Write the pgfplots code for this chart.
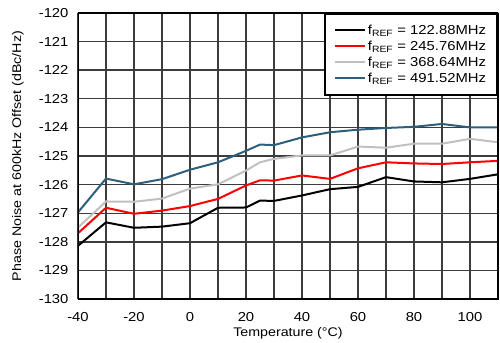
\documentclass[border=0pt]{standalone}
\usepackage{fontspec}
\setmainfont{Liberation Sans}[FakeStretch=1.14]
\usepackage{pgfplots}
\pgfplotsset{compat=1.18}
\definecolor{cblue}{RGB}{45,95,125}
\definecolor{cgray}{RGB}{192,192,192}
\definecolor{cred}{RGB}{255,0,0}
\definecolor{cgrid}{RGB}{60,60,60}
\begin{document}
\begin{tikzpicture}
\useasboundingbox (-78bp,-44bp) rectangle (422bp,299bp);
\begin{axis}[
 scale only axis, width=420bp, height=286bp,
 xmin=-40, xmax=110, ymin=-130, ymax=-120,
 xtick={-40,-20,...,100}, minor xtick={-30,-10,...,110},
 ytick={-130,-129,...,-120},
 grid=both,
 major grid style={draw=cgrid, line width=1.4bp},
 minor grid style={draw=cgrid, line width=1.4bp},
 major tick length=0pt, minor tick length=0pt,
 tick label style={font=\fontsize{13bp}{15bp}\selectfont},
 /pgf/number format/assume math mode=true,
 xticklabel style={yshift=-10bp},
 yticklabel style={xshift=-6bp},
 xlabel={Temperature (°C)},
 ylabel={Phase Noise at 600kHz Offset (dBc/Hz)},
 label style={font=\fontsize{12.5bp}{14bp}\selectfont},
 xlabel style={at={(axis description cs:0.5,0)}, anchor=center, yshift=-34bp},
 ylabel style={at={(axis description cs:0,0.5)}, anchor=center, yshift=60bp},
 legend style={at={(1,1)}, anchor=north east, draw=black, line width=2bp, fill=white,
   font=\fontsize{13bp}{15bp}\selectfont, row sep=1bp, inner xsep=9bp, inner ysep=9bp},
 legend cell align=left,
 legend image code/.code={\draw[#1] (0bp,0bp) -- (30bp,0bp);},
]
\addplot[black, line width=2bp] coordinates {
(-40,-128.14) (-30,-127.32) (-20,-127.51) (-10,-127.47) (0,-127.35) (10,-126.81) (20,-126.80) (25,-126.56) (30,-126.57) (40,-126.38) (50,-126.16) (60,-126.08) (70,-125.74) (80,-125.89) (90,-125.92) (100,-125.80) (110,-125.64)};
\addlegendentry{f\textsubscript{REF} = 122.88MHz}
\addplot[cred, line width=2bp] coordinates {
(-40,-127.70) (-30,-126.81) (-20,-127.02) (-10,-126.91) (0,-126.75) (10,-126.50) (20,-126.03) (25,-125.85) (30,-125.86) (40,-125.68) (50,-125.80) (60,-125.43) (70,-125.22) (80,-125.26) (90,-125.28) (100,-125.22) (110,-125.17)};
\addlegendentry{f\textsubscript{REF} = 245.76MHz}
\addplot[cgray, line width=2bp] coordinates {
(-40,-127.50) (-30,-126.59) (-20,-126.60) (-10,-126.49) (0,-126.14) (10,-125.99) (20,-125.51) (25,-125.22) (30,-125.10) (40,-124.98) (50,-124.98) (60,-124.67) (70,-124.71) (80,-124.57) (90,-124.57) (100,-124.40) (110,-124.52)};
\addlegendentry{f\textsubscript{REF} = 368.64MHz}
\addplot[cblue, line width=2bp] coordinates {
(-40,-126.97) (-30,-125.79) (-20,-125.99) (-10,-125.81) (0,-125.48) (10,-125.22) (20,-124.82) (25,-124.60) (30,-124.62) (40,-124.35) (50,-124.17) (60,-124.08) (70,-124.02) (80,-123.98) (90,-123.88) (100,-124.00) (110,-124.00)};
\addlegendentry{f\textsubscript{REF} = 491.52MHz}
\draw[line width=2bp] (rel axis cs:0,0) rectangle (rel axis cs:1,1);
\end{axis}
\end{tikzpicture}
\end{document}
